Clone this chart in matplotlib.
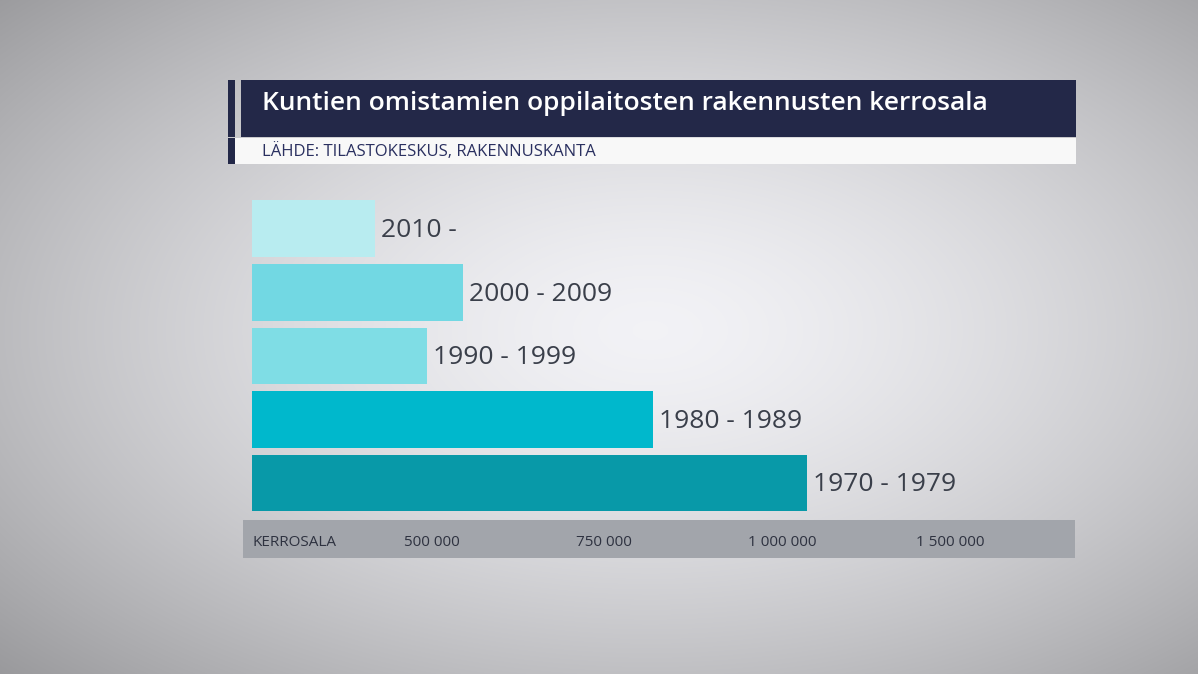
import numpy as np
import matplotlib
matplotlib.use("Agg")
import matplotlib.pyplot as plt
from matplotlib.patches import Rectangle

categories = ["2010 -", "2000 - 2009", "1990 - 1999", "1980 - 1989", "1970 - 1979"]
values = [342000, 545000, 486000, 819000, 1074000]
colors = ["#b8ecf0", "#72d8e3", "#7fdde5", "#00b8cc", "#0899a8"]
tick_values = [500000, 750000, 1000000, 1500000]
tick_labels = ["500 000", "750 000", "1 000 000", "1 500 000"]
title = "Kuntien omistamien oppilaitosten rakennusten kerrosala"
subtitle = "LÄHDE: TILASTOKESKUS, RAKENNUSKANTA"
axis_name = "KERROSALA"

W, H = 1198, 674
fig = plt.figure(figsize=(W/100, H/100), dpi=100)

bg = fig.add_axes([0, 0, 1, 1]); bg.axis("off")
yy, xx = np.mgrid[0:H, 0:W]
d = np.sqrt(((xx - 650) / 900) ** 2 + ((yy - 330) / 500) ** 2)
img = np.clip(0.95 - 0.35 * d ** 1.5, 0.55, 0.95)
bg.imshow(np.dstack([img, img, img * 1.01 + 0.005]).clip(0, 1), extent=[0, W, H, 0], aspect="auto")
bg.set_xlim(0, W); bg.set_ylim(H, 0)

def px(x, y, w, h, c, z=1):
    bg.add_patch(Rectangle((x, y), w, h, color=c, zorder=z, lw=0))

px(228, 80, 7, 57, "#232848")
px(241, 80, 835, 57, "#232848")
px(228, 138, 848, 26, "#f8f8f8")
px(228, 138, 7, 26, "#232848")
px(243, 520, 832, 38, "#a2a5ab")
bg.text(262, 104, title, color="white", fontsize=19, fontfamily="Open Sans", va="center",
        fontweight="semibold", fontstretch="semi-condensed")
bg.text(262, 152, subtitle, color="#2a3060", fontsize=12, fontfamily="Open Sans", va="center")
bg.text(252, 541, axis_name, color="#2e3240", fontsize=11, fontfamily="Open Sans", va="center_baseline")

xp = [0, 500000, 750000, 1000000, 1500000, 2000000]
pp = [252, 432, 604, 782, 950, 1118]
fwd = lambda v: np.interp(v, xp, pp)
inv = lambda p: np.interp(p, pp, xp)

ax = fig.add_axes([252 / W, 1 - 516 / H, (1075 - 252) / W, 321 / H])
ax.patch.set_alpha(0)
ax.set_xscale("function", functions=(fwd, inv))
ax.set_xlim(0, inv(1075))
ax.set_ylim(4.52, -0.5 - 0.03)
ypos = np.arange(len(categories))
ax.barh(ypos, values, height=0.89, color=colors, left=0)
for y, v, c in zip(ypos, values, categories):
    ax.text(inv(fwd(v) + 6), y + 0.03, c, va="center", ha="left", fontsize=19,
            color="#3a3f4a", fontfamily="Open Sans", fontstretch="semi-condensed")
ax.set_yticks([])
ax.set_xticks(tick_values)
ax.set_xticklabels(tick_labels, fontsize=11, color="#2e3240", fontfamily="Open Sans")
ax.tick_params(axis="x", length=0, pad=14)
ax.xaxis.set_minor_locator(matplotlib.ticker.NullLocator())
for s in ax.spines.values():
    s.set_visible(False)

fig.savefig("out.png", dpi=100)
